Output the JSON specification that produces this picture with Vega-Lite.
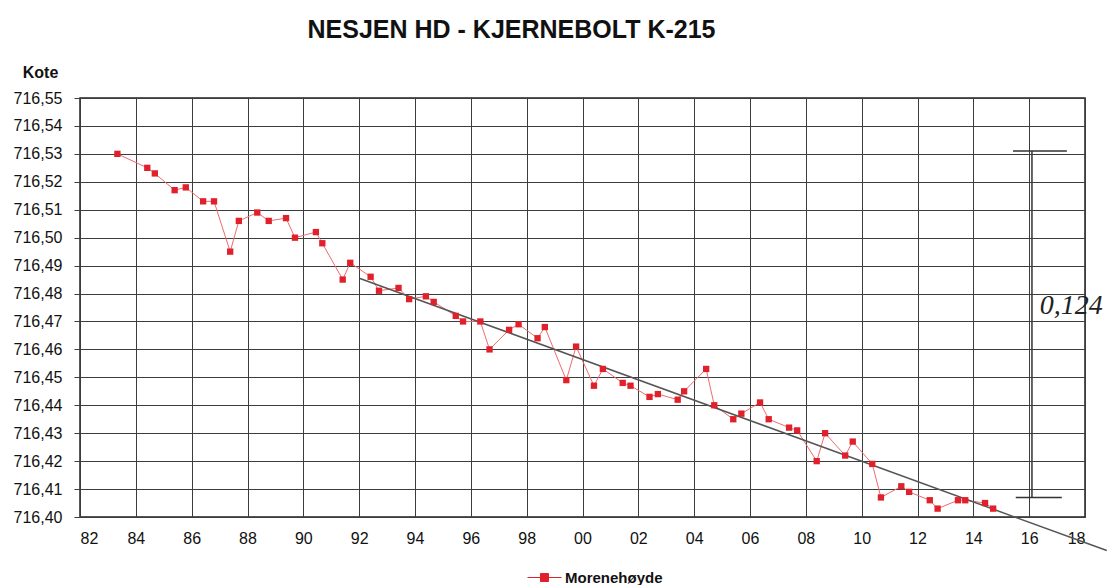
{
  "$schema": "https://vega.github.io/schema/vega-lite/v6.json",
  "width": 1005,
  "height": 419,
  "autosize": {"type": "none"},
  "padding": {"left": 80, "top": 98, "right": 29, "bottom": 68},
  "background": "white",
  "title": {
    "text": "NESJEN HD - KJERNEBOLT K-215",
    "font": "Liberation Sans",
    "fontSize": 25,
    "fontWeight": "bold",
    "color": "#111111",
    "anchor": "middle",
    "dx": -71,
    "offset": 21
  },
  "config": {
    "font": "Liberation Sans",
    "view": {"stroke": "#222222", "strokeWidth": 1.5}
  },
  "datasets": {
    "maalinger": [
      {"aar": 1983.34, "kote": 716.530, "serie": "Morenehøyde"},
      {"aar": 1984.41, "kote": 716.525, "serie": "Morenehøyde"},
      {"aar": 1984.68, "kote": 716.523, "serie": "Morenehøyde"},
      {"aar": 1985.39, "kote": 716.517, "serie": "Morenehøyde"},
      {"aar": 1985.79, "kote": 716.518, "serie": "Morenehøyde"},
      {"aar": 1986.41, "kote": 716.513, "serie": "Morenehøyde"},
      {"aar": 1986.80, "kote": 716.513, "serie": "Morenehøyde"},
      {"aar": 1987.38, "kote": 716.495, "serie": "Morenehøyde"},
      {"aar": 1987.69, "kote": 716.506, "serie": "Morenehøyde"},
      {"aar": 1988.35, "kote": 716.509, "serie": "Morenehøyde"},
      {"aar": 1988.76, "kote": 716.506, "serie": "Morenehøyde"},
      {"aar": 1989.38, "kote": 716.507, "serie": "Morenehøyde"},
      {"aar": 1989.70, "kote": 716.500, "serie": "Morenehøyde"},
      {"aar": 1990.45, "kote": 716.502, "serie": "Morenehøyde"},
      {"aar": 1990.68, "kote": 716.498, "serie": "Morenehøyde"},
      {"aar": 1991.41, "kote": 716.485, "serie": "Morenehøyde"},
      {"aar": 1991.68, "kote": 716.491, "serie": "Morenehøyde"},
      {"aar": 1992.41, "kote": 716.486, "serie": "Morenehøyde"},
      {"aar": 1992.71, "kote": 716.481, "serie": "Morenehøyde"},
      {"aar": 1993.41, "kote": 716.482, "serie": "Morenehøyde"},
      {"aar": 1993.79, "kote": 716.478, "serie": "Morenehøyde"},
      {"aar": 1994.39, "kote": 716.479, "serie": "Morenehøyde"},
      {"aar": 1994.67, "kote": 716.477, "serie": "Morenehøyde"},
      {"aar": 1995.46, "kote": 716.472, "serie": "Morenehøyde"},
      {"aar": 1995.72, "kote": 716.470, "serie": "Morenehøyde"},
      {"aar": 1996.34, "kote": 716.470, "serie": "Morenehøyde"},
      {"aar": 1996.67, "kote": 716.460, "serie": "Morenehøyde"},
      {"aar": 1997.37, "kote": 716.467, "serie": "Morenehøyde"},
      {"aar": 1997.71, "kote": 716.469, "serie": "Morenehøyde"},
      {"aar": 1998.39, "kote": 716.464, "serie": "Morenehøyde"},
      {"aar": 1998.65, "kote": 716.468, "serie": "Morenehøyde"},
      {"aar": 1999.42, "kote": 716.449, "serie": "Morenehøyde"},
      {"aar": 1999.77, "kote": 716.461, "serie": "Morenehøyde"},
      {"aar": 2000.41, "kote": 716.447, "serie": "Morenehøyde"},
      {"aar": 2000.73, "kote": 716.453, "serie": "Morenehøyde"},
      {"aar": 2001.44, "kote": 716.448, "serie": "Morenehøyde"},
      {"aar": 2001.72, "kote": 716.447, "serie": "Morenehøyde"},
      {"aar": 2002.40, "kote": 716.443, "serie": "Morenehøyde"},
      {"aar": 2002.70, "kote": 716.444, "serie": "Morenehøyde"},
      {"aar": 2003.41, "kote": 716.442, "serie": "Morenehøyde"},
      {"aar": 2003.64, "kote": 716.445, "serie": "Morenehøyde"},
      {"aar": 2004.43, "kote": 716.453, "serie": "Morenehøyde"},
      {"aar": 2004.72, "kote": 716.440, "serie": "Morenehøyde"},
      {"aar": 2005.40, "kote": 716.435, "serie": "Morenehøyde"},
      {"aar": 2005.69, "kote": 716.437, "serie": "Morenehøyde"},
      {"aar": 2006.36, "kote": 716.441, "serie": "Morenehøyde"},
      {"aar": 2006.67, "kote": 716.435, "serie": "Morenehøyde"},
      {"aar": 2007.40, "kote": 716.432, "serie": "Morenehøyde"},
      {"aar": 2007.69, "kote": 716.431, "serie": "Morenehøyde"},
      {"aar": 2008.39, "kote": 716.420, "serie": "Morenehøyde"},
      {"aar": 2008.69, "kote": 716.430, "serie": "Morenehøyde"},
      {"aar": 2009.41, "kote": 716.422, "serie": "Morenehøyde"},
      {"aar": 2009.68, "kote": 716.427, "serie": "Morenehøyde"},
      {"aar": 2010.38, "kote": 716.419, "serie": "Morenehøyde"},
      {"aar": 2010.69, "kote": 716.407, "serie": "Morenehøyde"},
      {"aar": 2011.42, "kote": 716.411, "serie": "Morenehøyde"},
      {"aar": 2011.70, "kote": 716.409, "serie": "Morenehøyde"},
      {"aar": 2012.44, "kote": 716.406, "serie": "Morenehøyde"},
      {"aar": 2012.72, "kote": 716.403, "serie": "Morenehøyde"},
      {"aar": 2013.45, "kote": 716.406, "serie": "Morenehøyde"},
      {"aar": 2013.71, "kote": 716.406, "serie": "Morenehøyde"},
      {"aar": 2014.42, "kote": 716.405, "serie": "Morenehøyde"},
      {"aar": 2014.71, "kote": 716.403, "serie": "Morenehøyde"}
    ],
    "trend": [
      {"aar": 1992.03, "kote": 716.4854, "aar2": 2018.78, "kote2": 716.388}
    ],
    "klamme": [
      {"aar": 2016.10, "kote": 716.531, "aar2": 2016.10, "kote2": 716.407},
      {"aar": 2015.42, "kote": 716.531, "aar2": 2017.35, "kote2": 716.531},
      {"aar": 2015.52, "kote": 716.407, "aar2": 2017.17, "kote2": 716.407}
    ],
    "merknad": [
      {"aar": 2016.38, "kote": 716.4755, "tekst": "0,124"}
    ]
  },
  "encoding": {
    "x": {
      "field": "aar",
      "type": "quantitative",
      "scale": {"domain": [1982, 2018], "nice": false, "zero": false},
      "axis": {
        "title": null,
        "values": [1982, 1984, 1986, 1988, 1990, 1992, 1994, 1996, 1998, 2000, 2002, 2004, 2006, 2008, 2010, 2012, 2014, 2016, 2018],
        "labelExpr": "substring(toString(datum.value), 2)",
        "labelFont": "Liberation Sans",
        "labelFontSize": 16,
        "labelColor": "#111111",
        "labelPadding": 13,
        "ticks": false,
        "domain": false,
        "grid": true,
        "gridColor": "#3c3c3c",
        "gridWidth": 1,
        "gridOpacity": 1
      }
    },
    "y": {
      "field": "kote",
      "type": "quantitative",
      "scale": {"domain": [716.40, 716.55], "nice": false, "zero": false},
      "axis": {
        "title": "Kote",
        "titleAngle": 0,
        "titleX": -40,
        "titleY": -26,
        "titleAlign": "center",
        "titleBaseline": "middle",
        "titleFont": "Liberation Sans",
        "titleFontSize": 16,
        "titleFontWeight": "bold",
        "titleColor": "#111111",
        "values": [716.40, 716.41, 716.42, 716.43, 716.44, 716.45, 716.46, 716.47, 716.48, 716.49, 716.50, 716.51, 716.52, 716.53, 716.54, 716.55],
        "labelExpr": "replace(format(datum.value, '.2f'), '.', ',')",
        "labelFont": "Liberation Sans",
        "labelFontSize": 16,
        "labelColor": "#111111",
        "labelPadding": 12,
        "ticks": true,
        "tickSize": 6,
        "tickColor": "#3c3c3c",
        "domain": false,
        "grid": true,
        "gridColor": "#3c3c3c",
        "gridWidth": 1,
        "gridOpacity": 1
      }
    }
  },
  "layer": [
    {
      "data": {"name": "maalinger"},
      "mark": {"type": "line", "color": "#ee6b70", "strokeWidth": 1},
      "encoding": {}
    },
    {
      "data": {"name": "trend"},
      "mark": {"type": "rule", "color": "#555555", "strokeWidth": 1.5, "clip": false},
      "encoding": {
        "x2": {"field": "aar2"},
        "y2": {"field": "kote2"}
      }
    },
    {
      "data": {"name": "maalinger"},
      "mark": {"type": "point", "shape": "square", "filled": true, "size": 40, "opacity": 1},
      "encoding": {
        "color": {
          "field": "serie",
          "type": "nominal",
          "scale": {"range": ["#e0202a"]},
          "legend": {
            "title": null,
            "orient": "none",
            "legendX": 457,
            "legendY": 472,
            "symbolType": "M-4.25,0H4.25M-1,-1H1V1H-1Z",
            "symbolSize": 64,
            "symbolStrokeWidth": 1,
            "symbolStrokeColor": "#e0202a",
            "symbolFillColor": "#e0202a",
            "labelFont": "Liberation Sans",
            "labelFontSize": 15,
            "labelFontWeight": "bold",
            "labelColor": "#111111",
            "labelOffset": 13
          }
        }
      }
    },
    {
      "data": {"name": "klamme"},
      "mark": {"type": "rule", "color": "#333333", "strokeWidth": 1.5},
      "encoding": {
        "x2": {"field": "aar2"},
        "y2": {"field": "kote2"}
      }
    },
    {
      "data": {"name": "merknad"},
      "mark": {
        "type": "text",
        "font": "Liberation Serif",
        "fontStyle": "italic",
        "fontSize": 28,
        "align": "left",
        "baseline": "middle",
        "color": "#222222"
      },
      "encoding": {
        "text": {"field": "tekst", "type": "nominal"}
      }
    }
  ]
}
